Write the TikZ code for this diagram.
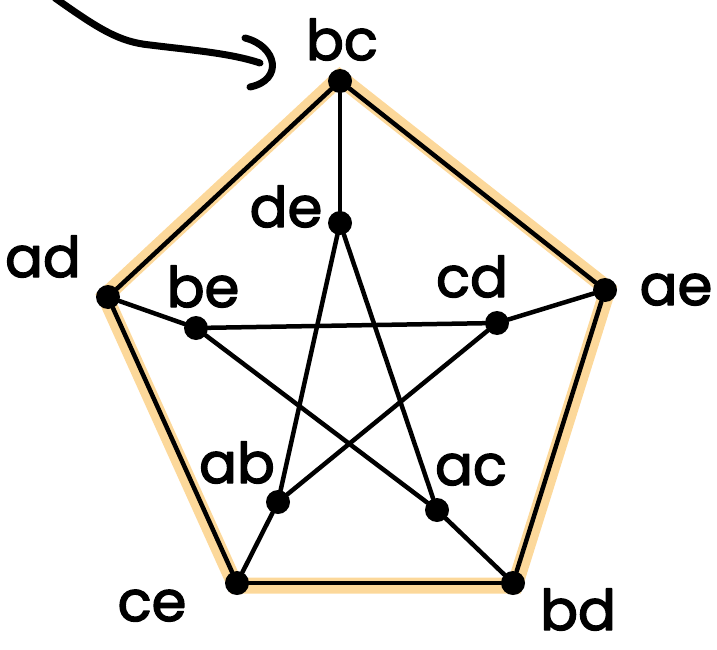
\documentclass[tikz,border=0pt]{standalone}
\usepackage{fontspec}
\setmainfont{Poppins}
\newfontfamily\hand{Poppins}[FakeBold=2.5]
\usetikzlibrary{calc,backgrounds}
\definecolor{marker}{RGB}{252,216,154}
\begin{document}
\begin{tikzpicture}[x=1pt, y=-1pt, line join=round, line cap=round]

    \tikzset{
      vertex/.style = {circle, fill=black, inner sep=0pt, minimum size=24pt},
      tag/.style    = {anchor=base, inner sep=0pt, font=\hand\fontsize{56}{60}\selectfont},
      link/.style   = {line width=4.5pt, draw=black},
      glow/.style   = {line width=16pt, draw=marker},
      pen/.style    = {line width=7pt, draw=black}
    }

    \useasboundingbox (0,0) rectangle (717,650);

    % vertices and their names
    \foreach \name/\x/\y/\tx/\ty in {
        bc/340/81/342/60,
        ae/605/290/676/305,
        bd/513/583/578/630,
        ce/237/583/152/621,
        ad/108/297/43/277,
        de/340/223/286/227,
        cd/497/323/472/297,
        ac/437/510/471/485,
        ab/278/502/237/483,
        be/196/328/203/307
    }{
        \node[vertex] (\name) at (\x,\y) {};
        \node[tag] (t-\name) at (\tx,\ty) {\name};
    }

    % highlighted outer cycle
    \coordinate (mid) at (361,370);
    \begin{scope}[on background layer]
        \draw[glow]
        ($(mid)!1.012!(bc.center)$) --
        ($(mid)!1.012!(ae.center)$) --
        ($(mid)!1.012!(bd.center)$) --
        ($(mid)!1.012!(ce.center)$) --
        ($(mid)!1.012!(ad.center)$) --
        cycle;
    \end{scope}

    \foreach \u/\v in {bc/ae, ae/bd, bd/ce, ce/ad, ad/bc,
                       bc/de, ae/cd, bd/ac, ce/ab, ad/be,
                       de/ab, de/ac, be/cd, be/ac, cd/ab}
        \draw[link] (\u) -- (\v);

    % hand drawn pointer
    \coordinate (tail) at (55,-2);
    \coordinate (tip) at (260,63);
    \draw[pen] (tail) .. controls (100,30) and (120,42) .. (150,45)
                      .. controls (190,50) and (230,53) .. (tip);
    \draw[pen] (245,38) .. controls (277,46) and (284,80) .. (250,87);

\end{tikzpicture}
\end{document}
